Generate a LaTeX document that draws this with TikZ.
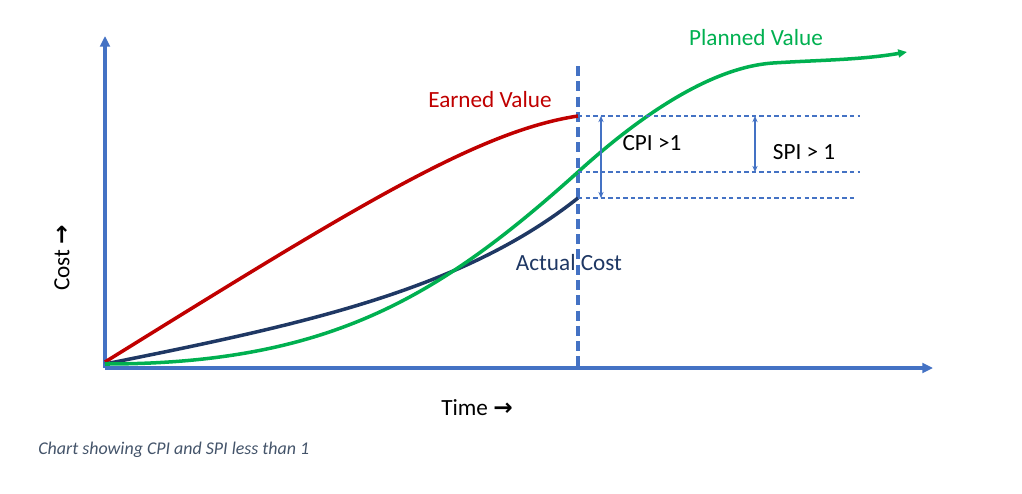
\documentclass[tikz,border=0pt]{standalone}
\usepackage{fontspec}
\setmainfont{Carlito}
\newfontfamily\arrowfont{DejaVu Sans}
\usetikzlibrary{arrows.meta, positioning}
\definecolor{axisblue}{RGB}{68,114,196}
\definecolor{evred}{RGB}{192,0,0}
\definecolor{acnavy}{RGB}{31,56,100}
\definecolor{pvgreen}{RGB}{0,176,80}
\definecolor{captiongray}{RGB}{68,84,106}
\newcommand{\rarr}{{\arrowfont\bfseries\char"2192}}

\begin{document}
\begin{tikzpicture}[x=0.02cm, y=-0.02cm,
    axis/.style={axisblue, line width=1.9pt, -{Triangle[length=6pt,width=5.5pt]}},
    curve/.style={line width=2pt},
    guide/.style={axisblue, line width=0.7pt, dash pattern=on 2.5pt off 1.8pt},
    gap/.style={axisblue, line width=0.7pt, {Stealth[length=3.5pt,width=3pt]}-{Stealth[length=3.5pt,width=3pt]}},
    lbl/.style={font=\fontsize{13.2}{15}\selectfont}]
    \useasboundingbox (0,0) rectangle (1022,494);

    % Axes
    \coordinate (origin) at (105,368);
    \coordinate (ytop) at (105,36);
    \coordinate (xend) at (933,368);
    \draw[axis] (origin) -- (ytop);
    \draw[axis] (origin) -- (xend);

    % Status date line
    \coordinate (nowtop) at (578,66);
    \coordinate (nowbot) at (578,368);
    \draw[axisblue, line width=2pt, dash pattern=on 5.7pt off 3pt] (nowtop) -- (nowbot);

    % Values at the status date
    \coordinate (ev) at (578,116);
    \coordinate (pv) at (578,172);
    \coordinate (ac) at (578,198);

    % Curves
    \draw[curve, evred] (105,362) .. controls (355,207) and (478,131) .. (ev);
    \draw[curve, acnavy] (105,364) .. controls (305,324) and (462,290) .. (ac);
    \draw[curve, pvgreen, -{Triangle[length=5pt,width=4.5pt]}] (105,364) .. controls (330,364) and (440,296) .. (pv)
        .. controls (620,134) and (700,68) .. (773,63)
        .. controls (820,60) and (860,60) .. (907,52);

    % Guide lines
    \coordinate (evend) at (860,116);
    \coordinate (pvend) at (860,172);
    \coordinate (acend) at (855,198);
    \draw[guide] (ev) -- (evend);
    \draw[guide] (pv) -- (pvend);
    \draw[guide] (ac) -- (acend);

    % Index gaps
    \coordinate (cpitop) at (601,116);
    \coordinate (cpibot) at (601,198);
    \coordinate (spitop) at (755,116);
    \coordinate (spibot) at (755,172);
    \draw[gap] (cpitop) -- (cpibot);
    \draw[gap] (spitop) -- (spibot);

    % Labels
    \node[lbl, evred] (evlabel) at (490,100) {Earned Value};
    \node[lbl, pvgreen] (pvlabel) at (756,38) {Planned Value};
    \node[lbl, acnavy] (aclabel) at (569,263) {Actual Cost};
    \node[lbl] (cpilabel) at (652,143) {CPI >1};
    \node[lbl] (spilabel) at (804,152) {SPI > 1};
    \node[lbl, rotate=90] (costlabel) at (62,258) {Cost \rarr};
    \node[lbl] (timelabel) at (477,408) {Time \rarr};
    \node[font=\fontsize{10.2}{12}\selectfont\itshape, captiongray, anchor=west, inner sep=0pt] (caption) at (38,450) {Chart showing CPI and SPI less than 1};
\end{tikzpicture}
\end{document}
